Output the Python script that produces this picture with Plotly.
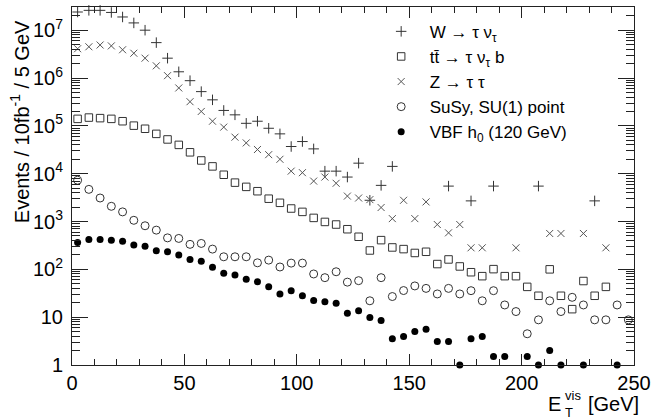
import plotly.graph_objects as go

# Bin centres (5 GeV bins)
et_bins = [2.5, 7.5, 12.5, 17.5, 22.5, 27.5, 32.5, 37.5, 42.5, 47.5,
           52.5, 57.5, 62.5, 67.5, 72.5, 77.5, 82.5, 87.5, 92.5, 97.5,
           102.5, 107.5, 112.5, 117.5, 122.5, 127.5, 132.5, 137.5, 142.5, 147.5,
           152.5, 157.5, 162.5, 167.5, 172.5, 177.5, 182.5, 187.5, 192.5, 197.5,
           202.5, 207.5, 212.5, 217.5, 222.5, 227.5, 232.5, 237.5, 242.5, 247.5]

w_taunu = [2.4e7, 2.6e7, 2.6e7, 2.35e7, 1.89e7, 1.42e7, 1.0e7, 5.5e6, 2.6e6, 1.35e6,
           8.8e5, 5.2e5, 3.5e5, 2.1e5, 1.7e5, 1.13e5, 1.25e5, 8.9e4, 6.8e4, 3.7e4,
           4.7e4, 3.3e4, 1.13e4, 1.13e4, 8.5e3, 1.66e4, 2.78e3, 5.7e3, 1.42e4, None,
           None, None, None, 5.5e3, None, 2.7e3, None, 5.5e3, None, None,
           None, 5.5e3, None, None, None, None, 2.7e3, None, None, None]

ttbar = [1.4e5, 1.49e5, 1.45e5, 1.4e5, 1.25e5, 1.01e5, 8.7e4, 6.8e4, 5.2e4, 4.0e4,
         2.8e4, 1.89e4, 1.42e4, 9.5e3, 6.5e3, 5.3e3, 4.3e3, 3.0e3, 2.46e3, 1.87e3,
         1.59e3, 1.19e3, 980, 865, 690, 480, 248, 408, 287, 265,
         220, 233, 129, 161, 115, 87, 72, 101, 72, 72,
         43, 28, 100, 28, 14.7, 57, 28, 43, None, None]

z_tautau = [4.1e6, 4.5e6, 4.9e6, 4.7e6, 3.9e6, 3.3e6, 2.6e6, 1.8e6, 1.12e6, 6.2e5,
            3.2e5, 2.0e5, 1.25e5, 9.4e4, 5.8e4, 4.4e4, 3.2e4, 2.5e4, 2.0e4, 1.13e4,
            1.05e4, 7.0e3, 8.5e3, 6.3e3, 3.4e3, 3.1e3, 2.87e3, 1.96e3, 1.15e3, 2.78e3,
            1.15e3, 2.57e3, 865, 580, 865, 282, 282, None, None, 282,
            None, None, 562, 562, None, 562, None, 282, None, None]

susy_su1 = [7.3e3, 4.7e3, 3.1e3, 2.08e3, 1.59e3, 1.06e3, 815, 660, 455, 443,
            333, 348, 265, 183, 183, 183, 137, 156, 112, 135,
            135, 80, 67, 89, 54, 58, 22, 67, 27, 36,
            45, 40, 30.6, 40, 30.6, 35.8, 22, 35.8, 18, 13.1,
            4.5, 8.8, 22, 13.1, 26, 18, 8.8, 8.8, 18, 8.8]

vbf_h120 = [365, 422, 422, 408, 389, 321, 305, 244, 233, 199,
            160, 148, 110, 82.5, 76, 62, 55, 43.4, 30.6, 35.8,
            28.2, 22.2, 21, 19.5, 12.1, 13.7, 9.8, 8.5, 3.53, 3.94,
            5.0, 5.6, 3.1, 3.1, 1.0, 3.53, 3.94, 1.5, 1.5, None,
            1.5, 1.0, 2.0, 1.0, None, 1.0, None, None, 1.0, None]

y_tickvals = [1, 10, 100, 1e3, 1e4, 1e5, 1e6, 1e7]
y_ticktext = ["1", "10", "10<sup>2</sup>", "10<sup>3</sup>", "10<sup>4</sup>",
              "10<sup>5</sup>", "10<sup>6</sup>", "10<sup>7</sup>"]
y_minorvals = [m * 10 ** k for k in range(0, 8) for m in range(2, 10)]

FONT = "Liberation Sans, Arial, sans-serif"

series = [
    ("W \u2192 \u03c4 \u03bd<sub>\u03c4</sub>", w_taunu,
     dict(symbol="cross-thin-open", size=7.5, line=dict(width=1, color="#333"), color="#333")),
    ("tt\u0304 \u2192 \u03c4 \u03bd<sub>\u03c4</sub> b", ttbar,
     dict(symbol="square-open", size=7.5, line=dict(width=1, color="#333"), color="#333")),
    ("Z \u2192 \u03c4 \u03c4", z_tautau,
     dict(symbol="x-thin-open", size=7, line=dict(width=1, color="#555"), color="#555")),
    ("SuSy, SU(1) point", susy_su1,
     dict(symbol="circle-open", size=8, line=dict(width=1, color="#333"), color="#333")),
    ("VBF h<sub>0</sub> (120 GeV)", vbf_h120,
     dict(symbol="circle", size=7, line=dict(width=0), color="black")),
]

fig = go.Figure()
for name, vals, marker in series:
    fig.add_trace(go.Scatter(x=et_bins, y=vals, mode="markers", name=name,
                             marker=marker, cliponaxis=False))


def label(text, x, y, size, xanchor="left", angle=0):
    return dict(text=text, xref="paper", yref="paper", x=x, y=y,
                xanchor=xanchor, yanchor="middle", showarrow=False,
                textangle=angle, borderpad=0,
                font=dict(family=FONT, size=size, color="black"))


fig.update_layout(
    width=657, height=420,
    margin=dict(l=72, r=19, t=6, b=55),
    paper_bgcolor="white", plot_bgcolor="white",
    font=dict(family=FONT, size=20, color="black"),
    showlegend=True,
    legend=dict(x=0.535, y=0.981, xanchor="left", yanchor="top",
                font=dict(family=FONT, size=17, color="black"),
                bgcolor="rgba(0,0,0,0)", borderwidth=0, itemwidth=47,
                tracegroupgap=0),
    xaxis=dict(range=[0, 250], tickmode="linear", tick0=0, dtick=50,
               ticks="inside", ticklen=11, tickwidth=1, tickcolor="#222",
               showline=True, linecolor="#222", linewidth=1, mirror="ticks",
               showgrid=False, zeroline=False,
               tickfont=dict(family=FONT, size=20, color="black"),
               minor=dict(ticks="inside", ticklen=6, tickwidth=1, tickcolor="#222",
                          tickmode="linear", tick0=0, dtick=10, showgrid=False)),
    yaxis=dict(type="log", range=[0, 7.485],
               tickmode="array", tickvals=y_tickvals, ticktext=y_ticktext,
               ticks="inside", ticklen=16, tickwidth=1, tickcolor="#222",
               showline=True, linecolor="#222", linewidth=1, mirror="ticks",
               showgrid=False, zeroline=False, ticklabelstandoff=4,
               tickfont=dict(family=FONT, size=20, color="black"),
               minor=dict(ticks="inside", ticklen=8, tickwidth=1, tickcolor="#222",
                          tickmode="array", tickvals=y_minorvals, showgrid=False)),
    annotations=[
        label("E", 0.8445, -0.1077, 20),
        label("T", 0.8746, -0.1314, 13),
        label("vis", 0.8746, -0.0841, 13),
        label("[GeV]", 1.01, -0.1077, 20, xanchor="right"),
        label("Events / 10fb<sup>-1</sup> / 5 GeV", -0.092, 0.679, 20,
              xanchor="center", angle=-90),
    ],
)

fig.write_html("out.html")
